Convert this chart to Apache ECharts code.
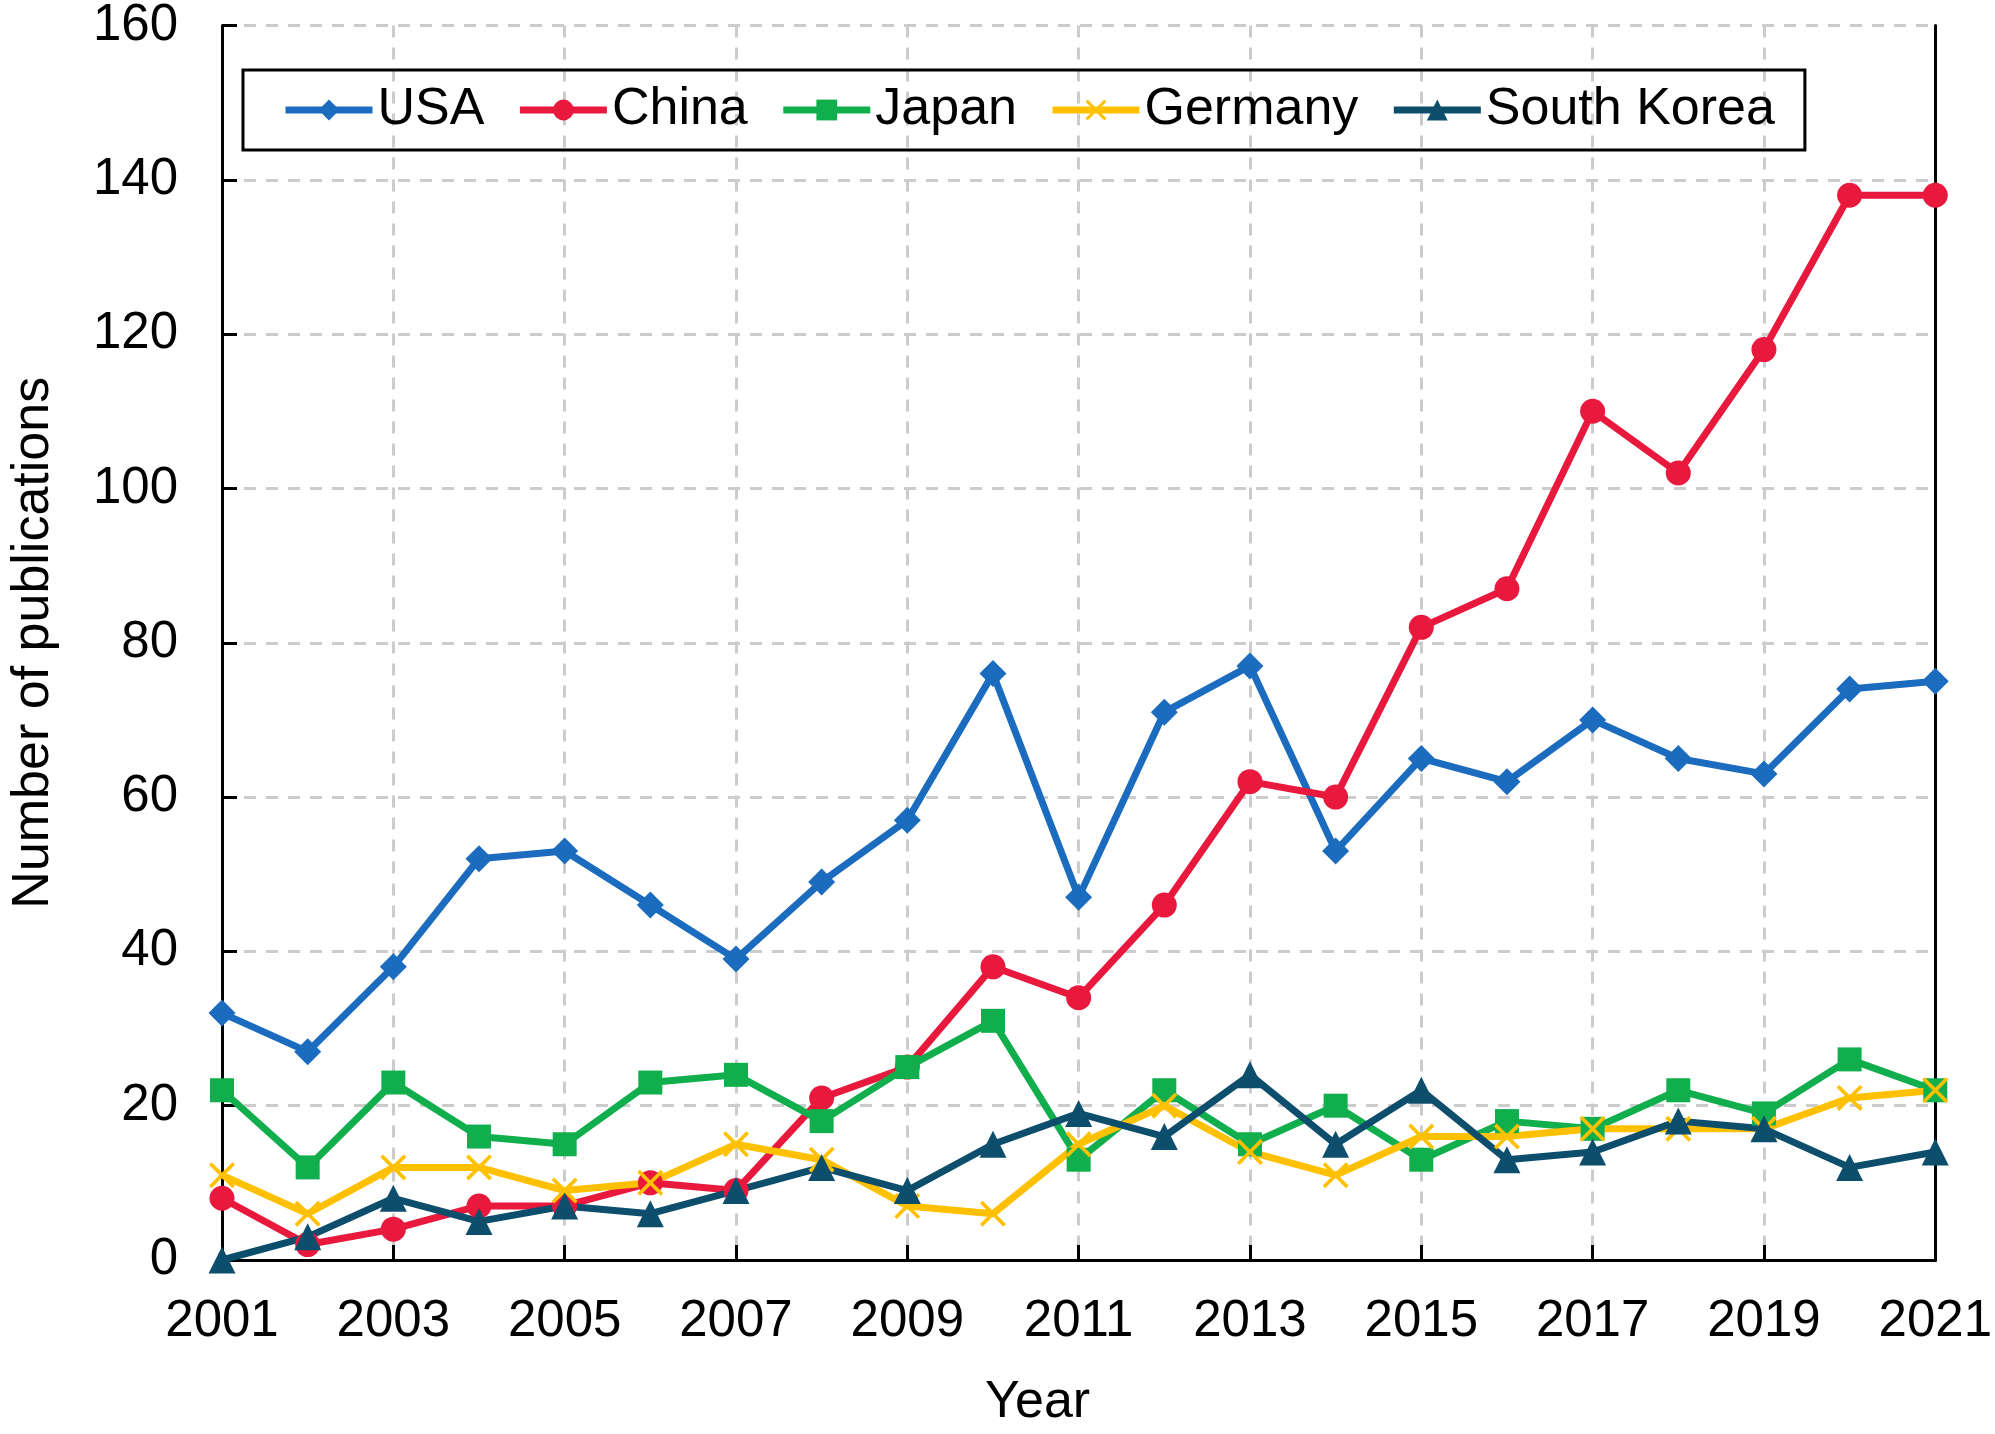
<!DOCTYPE html>
<html>
<head>
<meta charset="utf-8">
<script src="https://cdn.jsdelivr.net/npm/echarts@6.0.0/dist/echarts.min.js"></script>
<style>
  html, body { margin: 0; padding: 0; background: #fff; }
  #main { width: 1995px; height: 1434px; }
</style>
</head>
<body>
<div id="main"></div>
<script>
var years = ['2001', '2002', '2003', '2004', '2005', '2006', '2007', '2008', '2009', '2010',
  '2011', '2012', '2013', '2014', '2015', '2016', '2017', '2018', '2019', '2020', '2021'];
var usa = [32, 27, 38, 52, 53, 46, 39, 49, 57, 76, 47, 71, 77, 53, 65, 62, 70, 65, 63, 74, 75];
var china = [8, 2, 4, 7, 7, 10, 9, 21, 25, 38, 34, 46, 62, 60, 82, 87, 110, 102, 118, 138, 138];
var japan = [22, 12, 23, 16, 15, 23, 24, 18, 25, 31, 13, 22, 15, 20, 13, 18, 17, 22, 19, 26, 22];
var germany = [11, 6, 12, 12, 9, 10, 15, 13, 7, 6, 15, 20, 14, 11, 16, 16, 17, 17, 17, 21, 22];
var southKorea = [0, 3, 8, 5, 7, 6, 9, 12, 9, 15, 19, 16, 24, 15, 22, 13, 14, 18, 17, 12, 14];
var yTicks = [0, 20, 40, 60, 80, 100, 120, 140, 160];

var font = 'Liberation Sans, Arial, sans-serif';
// filled X shape for the Germany marker
var crossPath = 'path://M0,1L1,0L5,4L9,0L10,1L6,5L10,9L9,10L5,6L1,10L0,9L4,5Z';
var gridLine = { color: '#cccccc', width: 3, type: [12, 10] };
var blackLine = { color: '#000', width: 3 };

var myChart = echarts.init(document.getElementById('main'));

function makeSeries(name, data, color, symbol, size) {
  return {
    name: name,
    type: 'line',
    data: data,
    symbol: symbol,
    symbolSize: size,
    showAllSymbol: true,
    lineStyle: { color: color, width: 7 },
    itemStyle: { color: color },
    emphasis: { disabled: true },
    animation: false
  };
}

var option = {
  backgroundColor: '#fff',
  textStyle: { fontFamily: font, color: '#000' },
  grid: {
    left: 216,
    right: 55,
    top: 25,
    bottom: 171
  },
  legend: {
    left: 243,
    top: 70,
    padding: [14, 30, 14, 39],
    itemGap: 32,
    itemWidth: 87,
    itemHeight: 26,
    borderColor: '#000',
    borderWidth: 3,
    lineStyle: { width: 7 },
    textStyle: { fontSize: 52, color: '#000', fontFamily: font },
    data: ['USA', 'China', 'Japan', 'Germany', 'South Korea']
  },
  xAxis: [{
    type: 'category',
    data: years,
    boundaryGap: false,
    name: 'Year',
    nameLocation: 'middle',
    nameGap: 117,
    nameTextStyle: { fontSize: 52, color: '#000', fontFamily: font, padding: [0, 82, 0, 0] },
    axisLine: { lineStyle: blackLine },
    axisTick: { inside: true, length: 15, interval: 1, lineStyle: blackLine },
    axisLabel: { interval: 1, fontSize: 51, color: '#000', margin: 36, fontFamily: font },
    splitLine: { show: true, interval: 1, lineStyle: gridLine }
  }, {
    type: 'category',
    data: years,
    boundaryGap: false,
    position: 'top',
    axisLine: { show: true, lineStyle: blackLine },
    axisTick: { show: false },
    axisLabel: { show: false },
    splitLine: { show: false }
  }],
  yAxis: [{
    type: 'value',
    min: yTicks[0],
    max: yTicks[yTicks.length - 1],
    interval: 20,
    name: 'Number of publications',
    nameLocation: 'middle',
    nameGap: 162,
    nameTextStyle: { fontSize: 52, color: '#000', fontFamily: font },
    axisLine: { show: true, lineStyle: blackLine },
    axisTick: { show: true, inside: true, length: 15, lineStyle: blackLine },
    axisLabel: { fontSize: 51, color: '#000', margin: 44, fontFamily: font },
    splitLine: { show: true, lineStyle: gridLine }
  }, {
    type: 'value',
    min: yTicks[0],
    max: yTicks[yTicks.length - 1],
    interval: 20,
    position: 'right',
    axisLine: { show: true, lineStyle: blackLine },
    axisTick: { show: false },
    axisLabel: { show: false },
    splitLine: { show: false }
  }],
  series: [
    makeSeries('USA', usa, '#1B6BBE', 'diamond', 27),
    makeSeries('China', china, '#E8193C', 'circle', 25),
    makeSeries('Japan', japan, '#10AE4C', 'rect', 24),
    makeSeries('Germany', germany, '#FFC000', crossPath, 26),
    makeSeries('South Korea', southKorea, '#0D4E6C', 'triangle', 27)
  ]
};

myChart.setOption(option);
window.onresize = function () {
  myChart.resize();
};
</script>
</body>
</html>
